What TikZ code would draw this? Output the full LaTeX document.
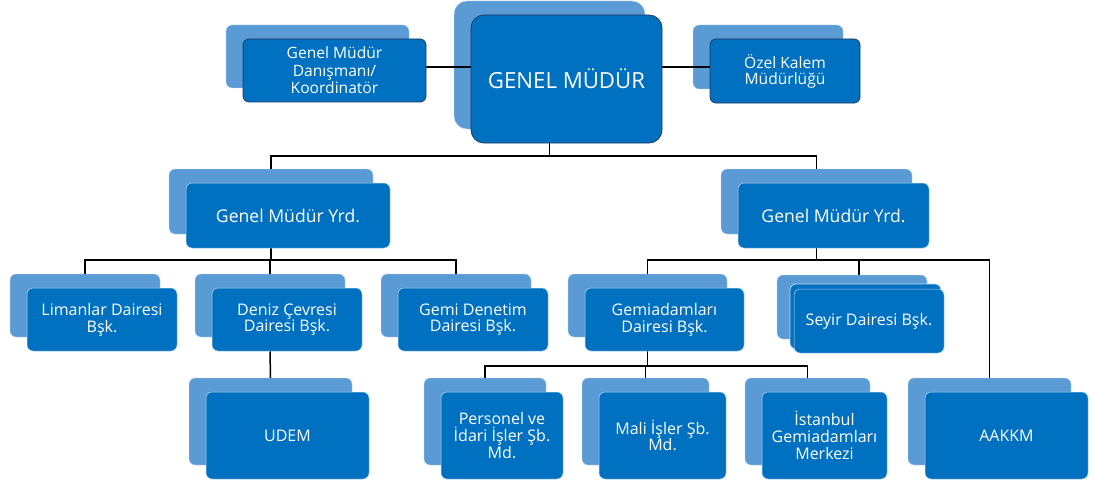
\documentclass[tikz,border=0pt]{standalone}
\usepackage{fontspec}
\setmainfont{Open Sans}
\definecolor{frontblue}{HTML}{0070C0}
\definecolor{backblue}{HTML}{5B9BD5}
\definecolor{darkedge}{HTML}{1F3A5F}
\definecolor{lightedge}{HTML}{BDD7EE}
\pgfdeclarelayer{bg}
\pgfsetlayers{bg,main}
\tikzset{
  boxbase/.style={inner sep=0pt, align=center, text=white, rounded corners=6pt},
  topbox/.style={boxbase, fill=frontblue, draw=darkedge, line width=0.8pt, font=\fontsize{15.6}{17.5}\selectfont},
  gmbox/.style={boxbase, fill=frontblue, draw=darkedge, line width=0.8pt, rounded corners=13pt, font=\fontsize{22.2}{26}\selectfont},
  yrdbox/.style={boxbase, fill=frontblue, draw=lightedge, line width=0.5pt, font=\fontsize{17.6}{20}\selectfont},
  lowbox/.style={boxbase, fill=frontblue, draw=lightedge, line width=0.5pt, font=\fontsize{16}{16.8}\selectfont},
  backbox/.style={inner sep=0pt, fill=backblue, draw=lightedge, line width=0.4pt, rounded corners=6pt},
  gmback/.style={backbox, rounded corners=13pt},
  conn/.style={draw=black, line width=1.5pt},
}
% name, x1, y1, x2, y2, front style, back style, text
\newcommand\unitbox[8]{%
  \node[#6, minimum width={#4-#2}, minimum height={#5-#3}] (#1) at ({(#2+#4)/2},{(#3+#5)/2}) {#8};
  \begin{pgfonlayer}{bg}
    \node[#7, minimum width={#4-#2}, minimum height={#5-#3}] (#1b) at ({(#2+#4)/2-17},{(#3+#5)/2-14}) {};
  \end{pgfonlayer}}
\begin{document}
\begin{tikzpicture}[x=1pt,y=-1pt]
\useasboundingbox (0,0) rectangle (1093,487);

\unitbox{GM}{471}{15}{662}{143}{gmbox}{gmback}{GENEL MÜDÜR}
\unitbox{Dan}{243}{39}{426}{102}{topbox}{backbox}{Genel Müdür\\Danışmanı/\\Koordinatör}
\unitbox{Oz}{710}{39}{860}{103}{topbox, font=\fontsize{15.6}{16}\selectfont}{backbox}{Özel Kalem\\Müdürlüğü}
\unitbox{YA}{186}{183}{390}{248}{yrdbox}{backbox}{Genel Müdür Yrd.}
\unitbox{YB}{738}{183}{929}{248}{yrdbox}{backbox}{Genel Müdür Yrd.}
\unitbox{Lim}{27}{288}{177}{351}{lowbox}{backbox}{Limanlar Dairesi\\Bşk.}
\unitbox{Den}{212}{288}{362}{351}{lowbox}{backbox}{Deniz Çevresi\\Dairesi Bşk.}
\unitbox{Gem}{398}{288}{548}{351}{lowbox}{backbox}{Gemi Denetim\\Dairesi Bşk.}
\unitbox{Gad}{585}{288}{744}{351}{lowbox}{backbox}{Gemiadamları\\Dairesi Bşk.}
\node[boxbase, fill=frontblue, draw=lightedge, line width=0.8pt, minimum width=151, minimum height=65] (Seym) at (865.5,316.5) {};
\unitbox{Sey}{794}{289}{944}{353}{lowbox}{backbox}{Seyir Dairesi Bşk.}
\unitbox{Ude}{206}{392}{369}{479}{lowbox}{backbox}{UDEM}
\unitbox{Per}{441}{392}{563}{479}{lowbox}{backbox}{Personel ve\\İdari İşler Şb.\\Md.}
\unitbox{Mal}{599}{392}{726}{479}{lowbox}{backbox}{Mali İşler Şb.\\Md.}
\unitbox{Ist}{762}{392}{887}{479}{lowbox}{backbox}{İstanbul\\Gemiadamları\\Merkezi}
\unitbox{Aak}{925}{392}{1088}{479}{lowbox}{backbox}{AAKKM}

\coordinate (h0) at (0,67);
\coordinate (bus1) at (0,156);
\coordinate (bus2) at (0,260);
\coordinate (bus3) at (0,366);
\coordinate (seyx) at (859,0);

\begin{pgfonlayer}{bg}
  \draw[conn] (Dan.east |- h0) -- (GM.west |- h0);
  \draw[conn] (GM.east |- h0) -- (Oz.west |- h0);
  \draw[conn] (GMb.south |- GM.south) -- (GMb.south |- bus1);
  \draw[conn] (YAb.north) -- (YAb.north |- bus1) -- (YBb.north |- bus1) -- (YBb.north);
  % left branch
  \draw[conn] (YAb.south |- YA.south) -- (YAb.south |- bus2);
  \draw[conn] (Limb.north) -- (Limb.north |- bus2) -- (Gemb.north |- bus2) -- (Gemb.north);
  \draw[conn] (Denb.north) -- (Denb.north |- bus2);
  \draw[conn] (Denb.south |- Den.south) -- (Udeb.north);
  % right branch
  \draw[conn] (YBb.south |- YB.south) -- (YBb.south |- bus2);
  \draw[conn] (Gadb.north) -- (Gadb.north |- bus2) -- (Aakb.north |- bus2) -- (Aakb.north);
  \draw[conn] (seyx |- bus2) -- (seyx |- Seyb.north);
  \draw[conn] (Gadb.south |- Gad.south) -- (Gadb.south |- bus3);
  \draw[conn] (Perb.north) -- (Perb.north |- bus3) -- (Istb.north |- bus3) -- (Istb.north);
  \draw[conn] (Malb.north |- bus3) -- (Malb.north);
\end{pgfonlayer}
\end{tikzpicture}
\end{document}
